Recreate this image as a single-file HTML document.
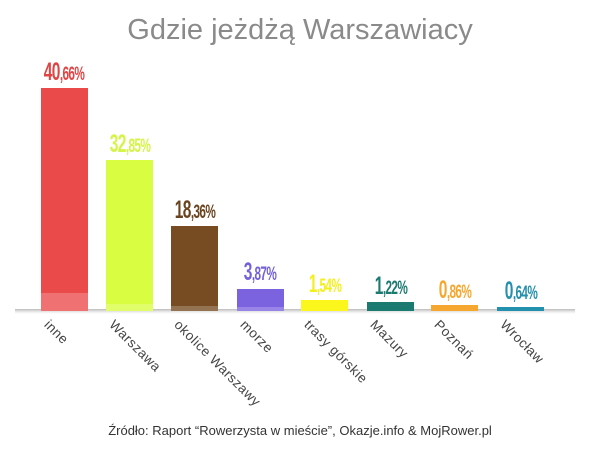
<!DOCTYPE html>
<html><head><meta charset="utf-8"><style>
body{margin:0;width:600px;height:450px;background:#fff;position:relative;overflow:hidden;font-family:"Liberation Sans",sans-serif}
.t{position:absolute;top:14px;left:0;width:600px;text-align:center;font-size:29px;color:#8a8a8a}
.b{position:absolute;width:47px}
.b i{position:absolute;left:0;right:0;bottom:0;background:rgba(255,255,255,.22)}
.v{position:absolute;width:100px;text-align:center;font-family:"Liberation Sans Narrow","Liberation Sans",sans-serif;font-weight:bold;font-size:25px;transform:scaleX(.62);letter-spacing:-1px;line-height:28px}
.v small{font-size:19px}
.l{position:absolute;font-size:13.5px;color:#444;transform-origin:0 0;transform:rotate(45deg);white-space:nowrap;letter-spacing:.5px}
.sh{position:absolute;left:15px;width:560px;top:309px;height:5px;background:linear-gradient(to bottom,#bbb,#eee 60%,#fff);}
.src{position:absolute;top:423px;left:0;width:600px;text-align:center;font-size:13px;color:#333}
</style></head><body>
<div class="t">Gdzie jeżdżą Warszawiacy</div>
<div class="sh"></div>
<div class="b" style="left:41px;top:88px;height:223px;background:#eb4a4a"><i style="height:18px"></i></div>
<div class="b" style="left:106px;top:160px;height:151px;background:#d9fd40"><i style="height:7px"></i></div>
<div class="b" style="left:171px;top:226px;height:85px;background:#774c22"><i style="height:5px"></i></div>
<div class="b" style="left:237px;top:289px;height:22px;background:#7b63e0"><i style="height:4px"></i></div>
<div class="b" style="left:301px;top:300px;height:11px;background:#fbf71c"></div>
<div class="b" style="left:367px;top:302px;height:9px;background:#1b7b70"></div>
<div class="b" style="left:431px;top:305px;height:6px;background:#f6a72f"></div>
<div class="b" style="left:497px;top:307px;height:4px;background:#2391ae"></div>
<div class="v" style="left:14px;top:58px;color:#e04545">40<small>,66%</small></div>
<div class="v" style="left:80px;top:130px;color:#d4f545">32<small>,85%</small></div>
<div class="v" style="left:145px;top:196px;color:#6a4420">18<small>,36%</small></div>
<div class="v" style="left:210px;top:258px;color:#7460d8">3<small>,87%</small></div>
<div class="v" style="left:275px;top:270px;color:#f4ef1f">1<small>,54%</small></div>
<div class="v" style="left:341px;top:272px;color:#1b7b70">1<small>,22%</small></div>
<div class="v" style="left:405px;top:276px;color:#f4a830">0<small>,86%</small></div>
<div class="v" style="left:471px;top:277px;color:#2590ac">0<small>,64%</small></div>
<div class="l" style="left:52px;top:317px">inne</div>
<div class="l" style="left:117px;top:317px">Warszawa</div>
<div class="l" style="left:182px;top:317px">okolice Warszawy</div>
<div class="l" style="left:248px;top:317px">morze</div>
<div class="l" style="left:312px;top:317px">trasy górskie</div>
<div class="l" style="left:378px;top:317px">Mazury</div>
<div class="l" style="left:442px;top:317px">Poznań</div>
<div class="l" style="left:508px;top:317px">Wrocław</div>
<div class="src">Źródło: Raport “Rowerzysta w mieście”, Okazje.info &amp; MojRower.pl</div>
</body></html>
